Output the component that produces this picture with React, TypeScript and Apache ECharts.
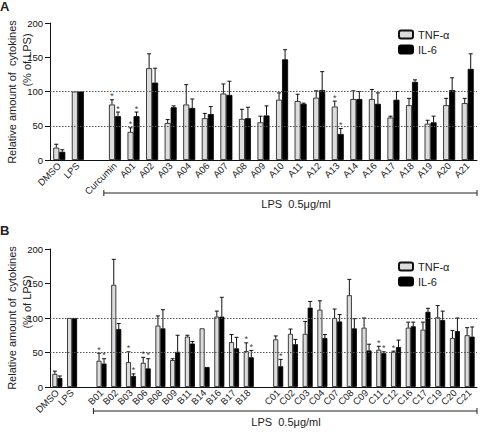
import React, { useEffect, useRef } from "react";
import * as echarts from "echarts";

const catsA = ["DMSO", "LPS", "", "Curcumin", "A01", "A02", "A03", "A04", "A06", "A07", "A08", "A09", "A10", "A11", "A12", "A13", "A14", "A16", "A17", "A18", "A19", "A20", "A21"];
const tnfA = [18, 100, null, 81, 41, 134, 54, 81, 61, 97, 60, 55, 88, 86, 91, 78, 89, 89, 62, 80, 53, 80, 83];
const tnfASem = [5, 0, null, 7, 6, 21, 5, 29, 7, 14, 14, 9, 10, 10, 10, 8, 12, 14, 2, 10, 5, 10, 7];
const il6A = [12, 100, null, 64, 64, 113, 77, 76, 67, 95, 61, 65, 147, 82, 102, 38, 89, 82, 88, 114, 55, 102, 133];
const il6ASem = [3, 0, null, 6, 6, 21, 2, 13, 11, 20, 16, 14, 14, 1, 27, 8, 11, 16, 12, 3, 9, 18, 22];
const tnfAStar = ["Curcumin", "A01", "A13"];
const il6AStar = ["Curcumin", "A01", "A13"];

const catsB = ["DMSO", "LPS", "", "B01", "B02", "B03", "B06", "B08", "B09", "B11", "B14", "B16", "B17", "B18", " ", "C01", "C02", "C03", "C04", "C07", "C08", "C09", "C11", "C12", "C16", "C17", "C19", "C20", "C21"];
const tnfB = [19, 100, null, 38, 148, 36, 35, 89, 39, 73, 85, 102, 65, 52, null, 69, 77, 77, 112, 100, 133, 86, 54, 51, 86, 83, 101, 71, 75];
const tnfBSem = [4, 0, null, 11, 37, 15, 8, 14, 2, 2, 0, 8, 11, 12, null, 5, 7, 18, 13, 13, 23, 14, 5, 1, 8, 11, 17, 11, 11];
const il6B = [13, 100, null, 34, 84, 16, 27, 85, 51, 63, 29, 102, 56, 43, null, 30, 62, 115, 71, 95, 85, 53, 49, 58, 88, 109, 97, 81, 73];
const il6BSem = [3, 0, null, 7, 8, 3, 14, 27, 24, 3, 0, 28, 16, 10, null, 10, 7, 9, 5, 10, 14, 9, 2, 10, 6, 5, 13, 19, 14];
const tnfBStar = ["B01", "B03", "B06", "B18", "C11", "C12"];
const il6BStar = ["B01", "B03", "B06", "B18", "C01", "C11"];

const yTicks = [0, 50, 100, 150, 200];
const refLines = [100, 50];

const FONT = "Liberation Sans, Arial, sans-serif";

function errSeries(vals: (number | null)[], sems: (number | null)[], sign: number, axisIndex: number, barW: number) {
  const data: any[] = [];
  vals.forEach((v, i) => {
    if (v == null) return;
    data.push([i, v, v + (sems[i] || 0)]);
  });
  return {
    type: "custom",
    xAxisIndex: axisIndex,
    yAxisIndex: axisIndex,
    silent: true,
    z: 4,
    itemStyle: { color: "#000" },
    data,
    renderItem: (params: any, api: any) => {
      const i = api.value(0);
      const v = api.value(1);
      const top = api.value(2);
      const p0 = api.coord([i, v]);
      const p1 = api.coord([i, top]);
      const x = p0[0] + (sign * barW) / 2;
      const children: any[] = [];
      if (top > v + 0.5) {
        children.push({ type: "line", shape: { x1: x, y1: p0[1], x2: x, y2: p1[1] }, style: { stroke: "#111", lineWidth: 1 } });
        children.push({ type: "line", shape: { x1: x - 2, y1: p1[1], x2: x + 2, y2: p1[1] }, style: { stroke: "#111", lineWidth: 1 } });
      }
      return { type: "group", children };
    },
  };
}

function starSeries(cats: string[], vals: (number | null)[], sems: (number | null)[], stars: string[], sign: number, axisIndex: number, barW: number) {
  const data: any[] = [];
  vals.forEach((v, i) => {
    if (v == null || !stars.includes(cats[i])) return;
    data.push([i, v + (sems[i] || 0)]);
  });
  return {
    type: "scatter",
    xAxisIndex: axisIndex,
    yAxisIndex: axisIndex,
    silent: true,
    symbolSize: 0,
    z: 5,
    data,
    label: {
      show: true,
      formatter: "*",
      position: "top",
      distance: 0,
      offset: [(sign * barW) / 2, 1],
      color: "#000",
      fontSize: 9,
      fontFamily: FONT,
    },
  };
}

function panel(idx: number, cats: string[], tnf: any[], tnfSem: any[], il6: any[], il6Sem: any[], tStar: string[], iStar: string[], barW: number) {
  return [
    {
      type: "line",
      xAxisIndex: idx,
      yAxisIndex: idx,
      data: [],
      z: 1,
      silent: true,
      markLine: {
        silent: true,
        symbol: ["none", "none"],
        label: { show: false },
        lineStyle: { type: [1.5, 1.5], color: "#555", width: 1 },
        data: refLines.map((v) => ({ yAxis: v })),
      },
    },
    {
      name: "TNF-α",
      type: "bar",
      xAxisIndex: idx,
      yAxisIndex: idx,
      data: tnf,
      barWidth: barW,
      barGap: "0%",
      z: 3,
      itemStyle: { color: "#dcdcdc", borderColor: "#111", borderWidth: 0.8 },
    },
    {
      name: "IL-6",
      type: "bar",
      xAxisIndex: idx,
      yAxisIndex: idx,
      data: il6,
      barWidth: barW,
      barGap: "0%",
      z: 3,
      itemStyle: { color: "#000", borderColor: "#000", borderWidth: 0.8 },
    },
    errSeries(tnf, tnfSem, -1, idx, barW),
    errSeries(il6, il6Sem, 1, idx, barW),
    starSeries(cats, tnf, tnfSem, tStar, -1, idx, barW),
    starSeries(cats, il6, il6Sem, iStar, 1, idx, barW),
  ];
}

function xAxis(idx: number, cats: string[]) {
  return {
    type: "category",
    gridIndex: idx,
    data: cats,
    axisLine: { lineStyle: { color: "#111", width: 1 } },
    axisTick: { alignWithLabel: true, length: 3, interval: 0, lineStyle: { color: "#111" } },
    axisLabel: { interval: 0, rotate: 45, fontSize: 9.5, fontFamily: FONT, color: "#222", margin: 4 },
  };
}

function yAxis(idx: number) {
  return {
    type: "value",
    gridIndex: idx,
    min: yTicks[0],
    max: yTicks[yTicks.length - 1],
    interval: 50,
    axisLine: { show: true, lineStyle: { color: "#111", width: 1 } },
    axisTick: { show: true, length: 5, lineStyle: { color: "#111" } },
    axisLabel: { show: true, fontSize: 9.5, fontFamily: FONT, color: "#111", margin: 7, hideOverlap: false },
    splitLine: { show: false },
  };
}

function legend(top: number) {
  return {
    data: ["TNF-α", "IL-6"],
    orient: "vertical",
    left: 393,
    top,
    itemWidth: 14,
    itemHeight: 8,
    itemGap: 4,
    textStyle: { fontSize: 11, fontFamily: FONT, color: "#222" },
    selectedMode: false,
  };
}

export default function App() {
  const ref = useRef<HTMLDivElement>(null);
  useEffect(() => {
    if (!ref.current) return;
    const chart = echarts.init(ref.current, null, { renderer: "svg" });
    const option: any = {
      animation: false,
      backgroundColor: "#fff",
      grid: [
        { left: 50, width: 427, top: 23, height: 137, outerBoundsMode: "none" },
        { left: 50, width: 427, top: 249, height: 138, outerBoundsMode: "none" },
      ],
      xAxis: [xAxis(0, catsA), xAxis(1, catsB)],
      yAxis: [yAxis(0), yAxis(1)],
      legend: [legend(24), legend(256)],
      series: [
        ...panel(0, catsA, tnfA, tnfASem, il6A, il6ASem, tnfAStar, il6AStar, 6),
        ...panel(1, catsB, tnfB, tnfBSem, il6B, il6BSem, tnfBStar, il6BStar, 5),
      ],
    };
    chart.setOption(option);

    const slotA = 427 / catsA.length;
    const slotB = 427 / catsB.length;
    const a0 = chart.convertToPixel({ xAxisIndex: 0 } as any, "Curcumin") as any;
    const b0 = chart.convertToPixel({ xAxisIndex: 1 } as any, "B01") as any;
    const aStart = (a0 as number) - slotA * 0.6;
    const bStart = (b0 as number) - slotB * 0.55;
    const right = 477;
    const bracket = (x1: number, y: number) => [
      { type: "line", shape: { x1, y1: y, x2: right, y2: y }, style: { stroke: "#222", lineWidth: 1 } },
      { type: "line", shape: { x1, y1: y - 3, x2: x1, y2: y + 3 }, style: { stroke: "#222", lineWidth: 1 } },
      { type: "line", shape: { x1: right, y1: y - 3, x2: right, y2: y + 3 }, style: { stroke: "#222", lineWidth: 1 } },
    ];
    const txt = (x: number, y: number, text: string, size: number, rot = 0, weight = "normal", align = "center") => ({
      type: "text",
      x,
      y,
      rotation: rot,
      style: { text, fontSize: size, fontFamily: FONT, fill: "#222", align, verticalAlign: "middle", fontWeight: weight },
    });
    chart.setOption({
      graphic: [
        txt(0, 6, "A", 13, 0, "bold", "left"),
        txt(0, 230, "B", 13, 0, "bold", "left"),
        txt(12, 92, "Relative amount of  cytokines", 11, Math.PI / 2),
        txt(27, 60, "(% of LPS)", 11, Math.PI / 2),
        txt(12, 318, "Relative amount of  cytokines", 11, Math.PI / 2),
        txt(27, 302, "(% of LPS)", 11, Math.PI / 2),
        ...bracket(aStart, 193),
        ...bracket(bStart, 411),
        txt(296, 204, "LPS  0.5μg/ml", 11),
        txt(286, 422, "LPS  0.5μg/ml", 11),
      ],
    });
    return () => chart.dispose();
  }, []);
  return <div ref={ref} style={{ width: 480, height: 432, position: "absolute", left: 0, top: 0 }} />;
}
